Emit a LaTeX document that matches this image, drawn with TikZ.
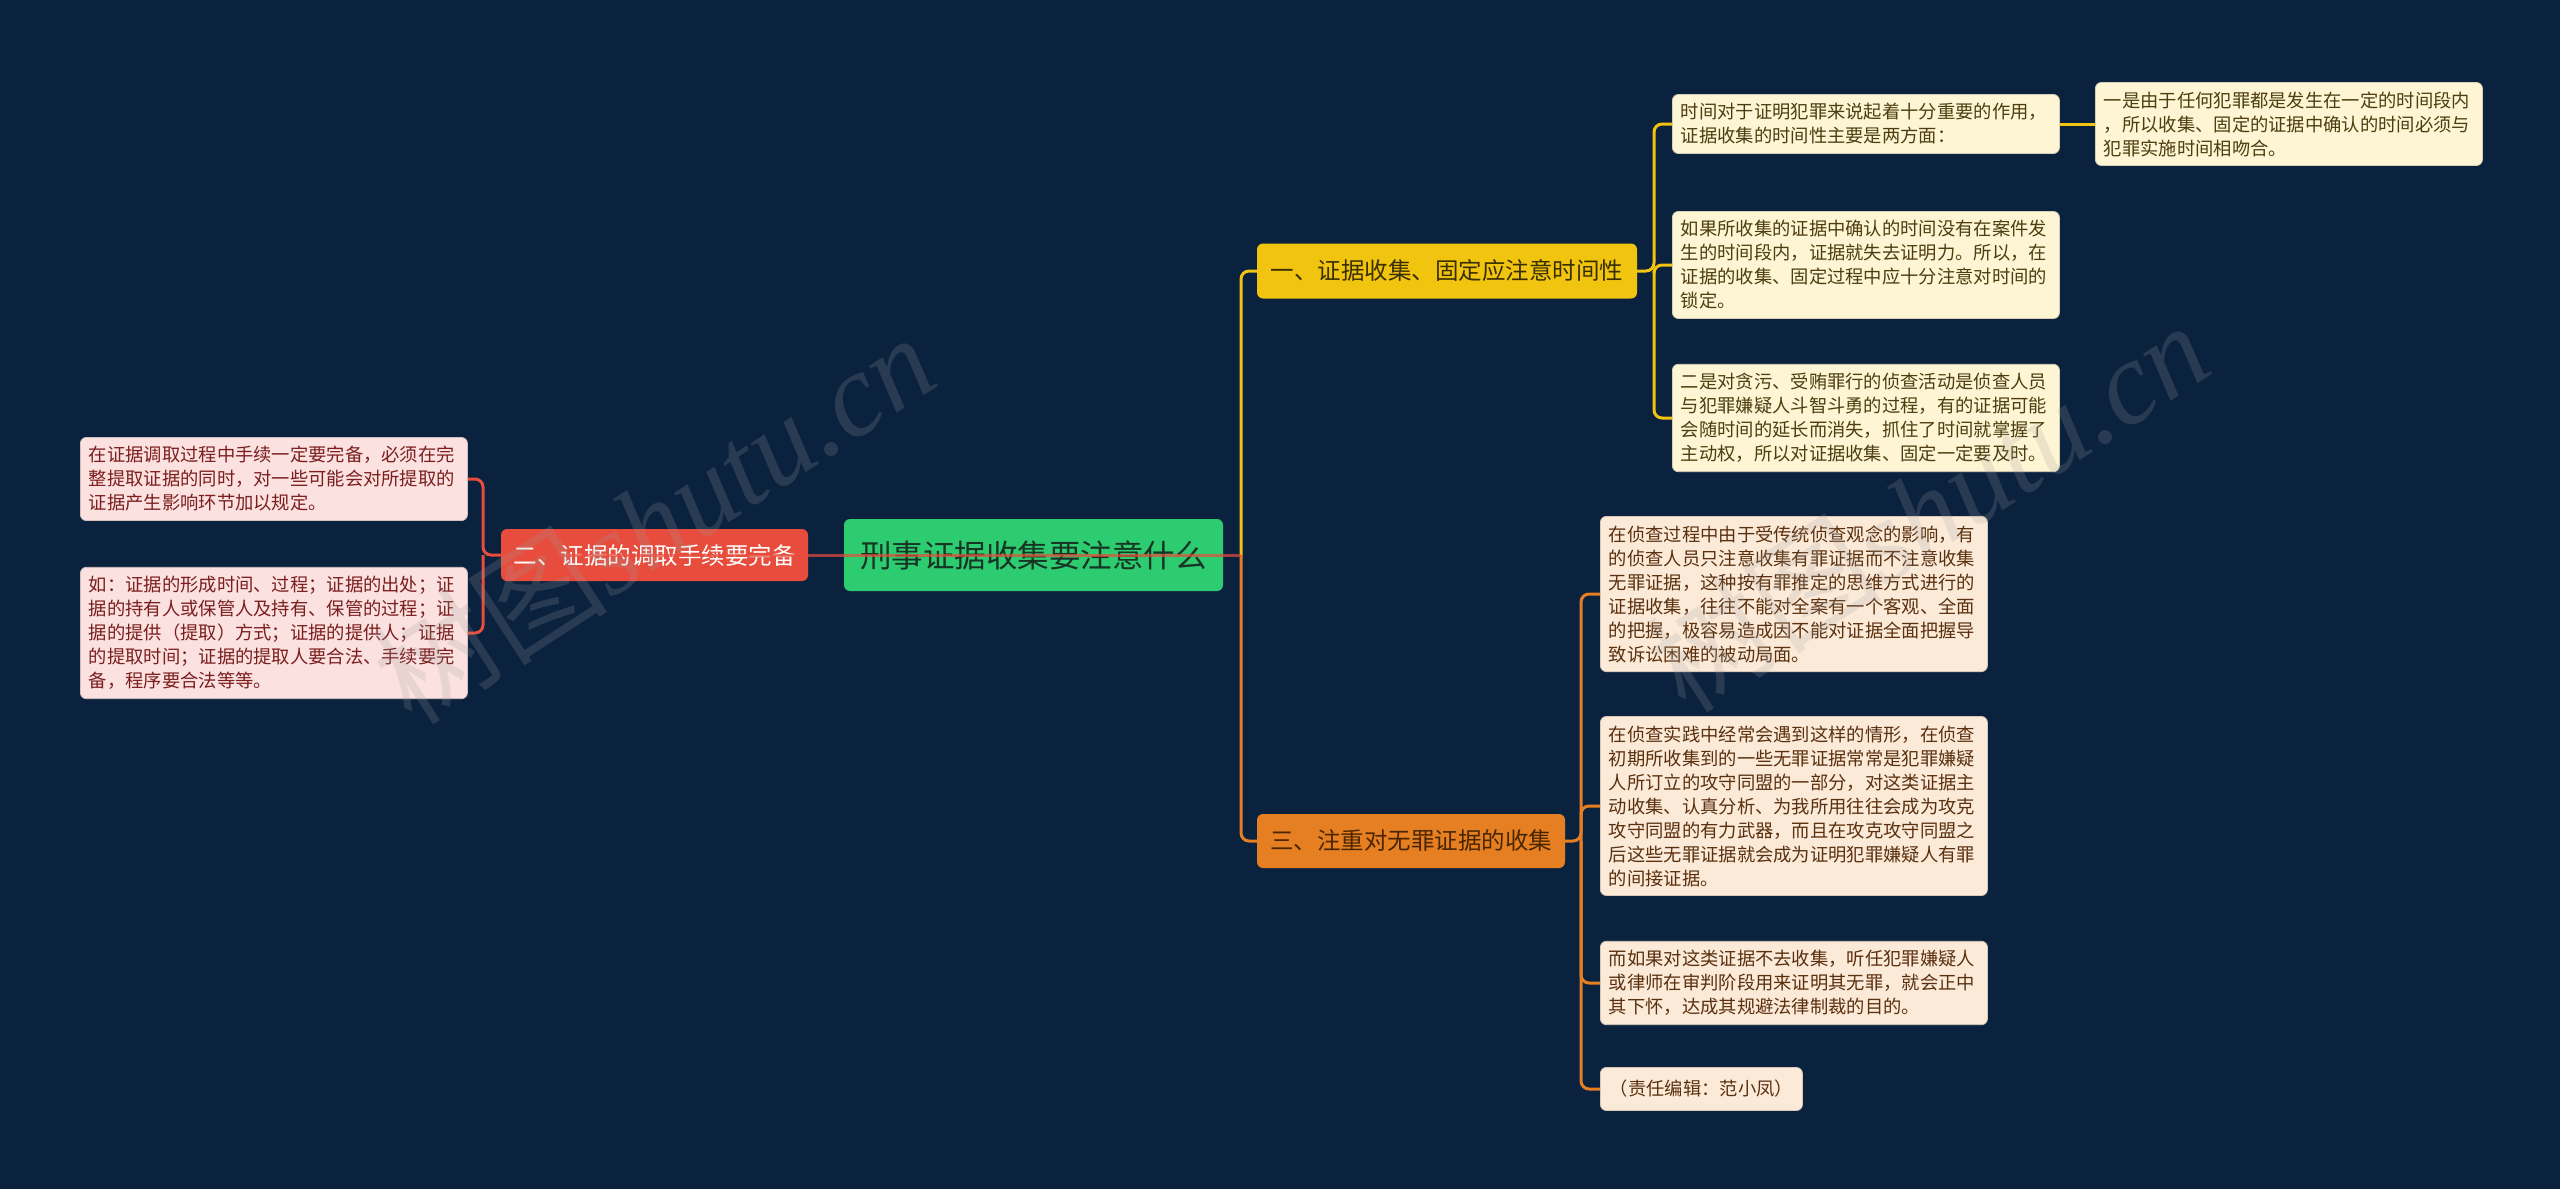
\documentclass[tikz,border=0pt]{standalone}
\usepackage{fontspec}
\setmainfont{Noto Sans CJK SC}
\newfontfamily\wmserif{Liberation Serif}
\definecolor{bg}{HTML}{0B223F}
\definecolor{rootg}{HTML}{2ECC71}
\definecolor{redc}{HTML}{E74C3C}
\definecolor{yelc}{HTML}{F1C40F}
\definecolor{orac}{HTML}{E67E22}
\definecolor{pinkf}{HTML}{FBE1E0}
\definecolor{creamf}{HTML}{FDF5D3}
\definecolor{peachf}{HTML}{FCEAD9}
\definecolor{pinkt}{HTML}{7B1E1E}
\definecolor{creamt}{HTML}{4D3D10}
\definecolor{peacht}{HTML}{5A300E}
\definecolor{roott}{HTML}{173524}
\definecolor{yelt}{HTML}{3A2F00}
\definecolor{orat}{HTML}{4A2600}
\begin{document}
\begin{tikzpicture}[x=1pt,y=-1pt,
  leafbase/.style={rectangle, rounded corners=6pt, align=left, inner xsep=8.5pt, inner ysep=9pt,
    font=\fontsize{18.3}{24}\selectfont, anchor=west, line width=0.8pt},
  leaf/.style={leafbase, text width=370pt},
  pleaf/.style={leaf, fill=pinkf, draw=pinkf!85!black, text=pinkt},
  cleaf/.style={leaf, fill=creamf, draw=creamf!85!black, text=creamt},
  sleaf/.style={leaf, fill=peachf, draw=peachf!85!black, text=peacht},
  mainbox/.style={rectangle, rounded corners=6pt, inner sep=0pt, font=\fontsize{23.5}{28}\selectfont},
  link/.style={line width=3pt, rounded corners=8pt},
  wmark/.style={font=\fontsize{118}{130}\selectfont, text=gray!75, opacity=0.2}
]
\useasboundingbox (0,0) rectangle (2560,1189);
\fill[bg] (0,0) rectangle (2560,1189);

% root and main branches
\node[mainbox, fill=rootg, text=roott, minimum width=379pt, minimum height=72pt,
  font=\fontsize{31.5}{36}\selectfont] (root) at (1033.5,555) {刑事证据收集要注意什么};
\node[mainbox, fill=redc, text=white, minimum width=307pt, minimum height=52pt] (s2) at (654.5,555) {二、证据的调取手续要完备};
\node[mainbox, fill=yelc, text=yelt, minimum width=380pt, minimum height=55pt] (s1) at (1447,271) {一、证据收集、固定应注意时间性};
\node[mainbox, fill=orac, text=orat, minimum width=308pt, minimum height=54pt] (s3) at (1411,841) {三、注重对无罪证据的收集};

% left leaves
\node[pleaf] (l1) at (80,479) {在证据调取过程中手续一定要完备，必须在完\\整提取证据的同时，对一些可能会对所提取的\\证据产生影响环节加以规定。};
\node[pleaf] (l2) at (80,633) {如：证据的形成时间、过程；证据的出处；证\\据的持有人或保管人及持有、保管的过程；证\\据的提供（提取）方式；证据的提供人；证据\\的提取时间；证据的提取人要合法、手续要完\\备，程序要合法等等。};

% branch one leaves
\node[cleaf] (r1) at (1672,124) {时间对于证明犯罪来说起着十分重要的作用，\\证据收集的时间性主要是两方面：};
\node[cleaf] (r1a) at (2095,124) {一是由于任何犯罪都是发生在一定的时间段内\\，所以收集、固定的证据中确认的时间必须与\\犯罪实施时间相吻合。};
\node[cleaf] (r2) at (1672,265) {如果所收集的证据中确认的时间没有在案件发\\生的时间段内，证据就失去证明力。所以，在\\证据的收集、固定过程中应十分注意对时间的\\锁定。};
\node[cleaf] (r3) at (1672,418) {二是对贪污、受贿罪行的侦查活动是侦查人员\\与犯罪嫌疑人斗智斗勇的过程，有的证据可能\\会随时间的延长而消失，抓住了时间就掌握了\\主动权，所以对证据收集、固定一定要及时。};

% branch three leaves
\node[sleaf] (t1) at (1600,594) {在侦查过程中由于受传统侦查观念的影响，有\\的侦查人员只注意收集有罪证据而不注意收集\\无罪证据，这种按有罪推定的思维方式进行的\\证据收集，往往不能对全案有一个客观、全面\\的把握，极容易造成因不能对证据全面把握导\\致诉讼困难的被动局面。};
\node[sleaf] (t2) at (1600,806) {在侦查实践中经常会遇到这样的情形，在侦查\\初期所收集到的一些无罪证据常常是犯罪嫌疑\\人所订立的攻守同盟的一部分，对这类证据主\\动收集、认真分析、为我所用往往会成为攻克\\攻守同盟的有力武器，而且在攻克攻守同盟之\\后这些无罪证据就会成为证明犯罪嫌疑人有罪\\的间接证据。};
\node[sleaf] (t3) at (1600,983) {而如果对这类证据不去收集，听任犯罪嫌疑人\\或律师在审判阶段用来证明其无罪，就会正中\\其下怀，达成其规避法律制裁的目的。};
\node[leafbase, fill=peachf, draw=peachf!85!black, text=peacht, minimum height=43pt, inner xsep=9.5pt] (t4) at (1600,1089) {（责任编辑：范小凤）};

% bracket points
\coordinate (lb) at (483,555);
\coordinate (rb) at (1241,555);
\coordinate (yb) at (1654,271);
\coordinate (ob) at (1581,841);

% connectors
\draw[link, yelc] (rb) |- (s1.west);
\draw[link, orac] (rb) |- (s3.west);
\draw[link, yelc] (s1.east) -- (yb) |- (r1.west);
\draw[link, yelc] (yb) |- (r2.west);
\draw[link, yelc] (yb) |- (r3.west);
\draw[link, yelc] (r1.east) -- (r1a.west);
\draw[link, orac] (s3.east) -- (ob) |- (t1.west);
\draw[link, orac] (ob) |- (t2.west);
\draw[link, orac] (ob) |- (t3.west);
\draw[link, orac] (ob) |- (t4.west);
\draw[link, redc] (s2.west) -- (lb) |- (l1.east);
\draw[link, redc] (lb) |- (l2.east);
\draw[line width=3pt, redc, opacity=0.7] (s2.west) -- (root.center) -- (rb);

% watermarks
\node[wmark, rotate=33] (wm1) at (653,518) {树图{\wmserif\itshape shutu.cn}};
\node[wmark, rotate=33] (wm2) at (1927,506) {树图{\wmserif\itshape shutu.cn}};
\end{tikzpicture}
\end{document}
